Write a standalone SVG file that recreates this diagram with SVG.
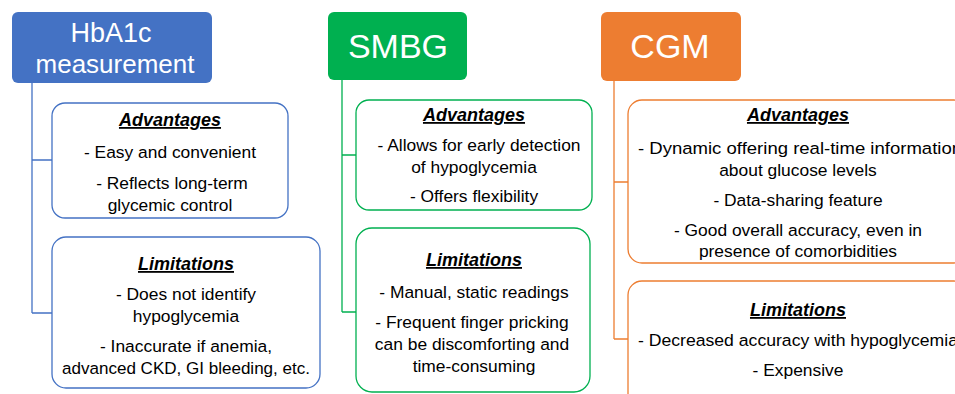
<svg xmlns="http://www.w3.org/2000/svg" width="955" height="394" viewBox="0 0 955 394">
<style>
text{font-family:"Liberation Sans",Arial,sans-serif;text-anchor:middle;fill:#000}
.t{fill:#fff;font-size:27px}
.h{font-size:18px;font-weight:bold;font-style:italic;text-decoration:underline}
.b{font-size:17.4px}
.box{fill:#fff;stroke-width:1.3}
.blue{stroke:#4472C4}
.green{stroke:#00B050}
.orange{stroke:#ED7D31}
.ln{fill:none;stroke-width:1.3}
</style>
<rect width="955" height="394" fill="#fff"/>
<g id="connectors">
<path class="ln blue" d="M32 83V313M32 160H52M32 313H52"/>
<path class="ln green" d="M342 80V312M342 155H356M342 312H356"/>
<path class="ln orange" d="M614 81V339M614 182H628M614 339H628"/>
</g>
<g id="hba1c">
<rect x="12" y="12" width="200" height="71" rx="6" fill="#4472C4"/>
<text class="t" x="111" y="42">HbA1c</text>
<text class="t" x="115" y="73" style="font-size:26px">measurement</text>
</g>
<g id="hba1c-adv">
<rect class="box blue" x="52" y="103" width="236" height="115" rx="13"/>
<text class="h" x="170" y="126">Advantages</text>
<text class="b" x="170" y="158">- Easy and convenient</text>
<text class="b" x="172" y="189">- Reflects long-term</text>
<text class="b" x="170" y="211">glycemic control</text>
</g>
<g id="hba1c-lim">
<rect class="box blue" x="52" y="237" width="268" height="151" rx="14"/>
<text class="h" x="186" y="270">Limitations</text>
<text class="b" x="186" y="300">- Does not identify</text>
<text class="b" x="186" y="322">hypoglycemia</text>
<text class="b" x="186" y="352">- Inaccurate if anemia,</text>
<text class="b" x="186" y="374" textLength="248" lengthAdjust="spacingAndGlyphs">advanced CKD, GI bleeding, etc.</text>
</g>
<g id="smbg">
<rect x="328" y="12" width="139" height="68" rx="6" fill="#00B050"/>
<text class="t" x="398" y="58" style="font-size:34px">SMBG</text>
</g>
<g id="smbg-adv">
<rect class="box green" x="356" y="100" width="236" height="110" rx="13"/>
<text class="h" x="474" y="121">Advantages</text>
<text class="b" x="479" y="151">- Allows for early detection</text>
<text class="b" x="474" y="173">of hypoglycemia</text>
<text class="b" x="474" y="202">- Offers flexibility</text>
</g>
<g id="smbg-lim">
<rect class="box green" x="356" y="228" width="234" height="164" rx="16"/>
<text class="h" x="474" y="266">Limitations</text>
<text class="b" x="474" y="298">-  Manual, static readings</text>
<text class="b" x="472" y="328">- Frequent finger pricking</text>
<text class="b" x="472" y="350">can be discomforting and</text>
<text class="b" x="474" y="372">time-consuming</text>
</g>
<g id="cgm">
<rect x="601" y="12" width="140" height="69" rx="6" fill="#ED7D31"/>
<text class="t" x="670" y="58" style="font-size:34px">CGM</text>
</g>
<g id="cgm-adv">
<rect class="box orange" x="628" y="100" width="340" height="163" rx="14"/>
<text class="h" x="798" y="121">Advantages</text>
<text class="b" x="800" y="154" textLength="324" lengthAdjust="spacingAndGlyphs">- Dynamic offering real-time information</text>
<text class="b" x="798" y="176">about glucose levels</text>
<text class="b" x="798" y="206">- Data-sharing feature</text>
<text class="b" x="798" y="236">-  Good overall accuracy, even in</text>
<text class="b" x="798" y="257">presence of comorbidities</text>
</g>
<g id="cgm-lim">
<rect class="box orange" x="628" y="281" width="340" height="130" rx="14"/>
<text class="h" x="798" y="316">Limitations</text>
<text class="b" x="798" y="346" textLength="320" lengthAdjust="spacingAndGlyphs">- Decreased accuracy with hypoglycemia</text>
<text class="b" x="798" y="376">- Expensive</text>
</g>
</svg>
